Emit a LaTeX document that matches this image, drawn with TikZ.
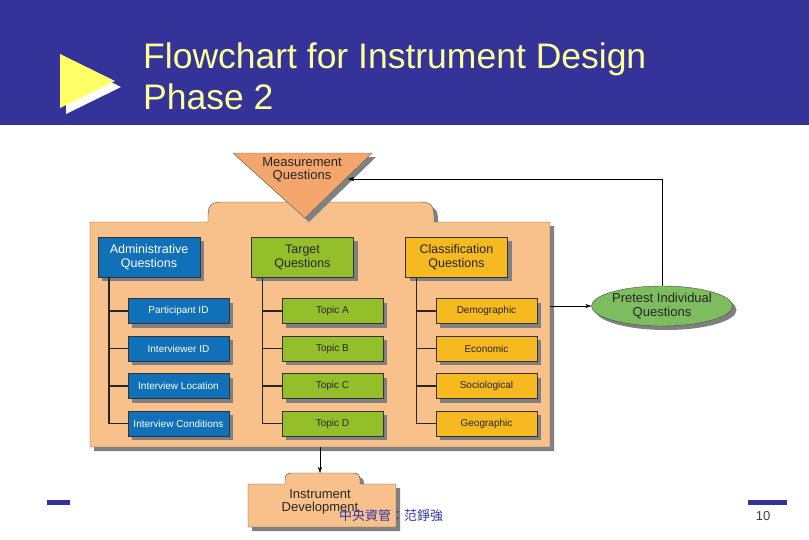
\documentclass[tikz,border=0pt]{standalone}
\usepackage{fontspec}
\setmainfont{Liberation Sans}
\newfontfamily\cjkfont{Noto Sans CJK TC}
\usepackage{xcolor}
\usetikzlibrary{shapes.geometric, arrows.meta, positioning, shadows}

\definecolor{banner}{HTML}{333399}
\definecolor{titleyellow}{HTML}{FFFF99}
\definecolor{markyellow}{HTML}{FFFF66}
\definecolor{peach}{HTML}{F8C18B}
\definecolor{measorange}{HTML}{F4A66C}
\definecolor{adminblue}{HTML}{1070B8}
\definecolor{targetgreen}{HTML}{94BE2A}
\definecolor{classyellow}{HTML}{F6BA20}
\definecolor{pretestgreen}{HTML}{7DBD5F}
\definecolor{footerblue}{HTML}{3333AA}

\begin{document}
\begin{tikzpicture}[x=1pt, y=-1pt,
    boxshadow/.style={drop shadow={shadow xshift=4pt, shadow yshift=-4pt, fill=black!50, opacity=1}},
    headbox/.style={rectangle, draw=black!80, boxshadow, minimum width=102pt, minimum height=40pt, inner sep=1pt, align=center, text=black!85, font=\fontsize{12.5}{14}\selectfont},
    subbox/.style={rectangle, draw=black!80, boxshadow, minimum width=101pt, minimum height=25pt, inner sep=1pt, text=black!85, font=\fontsize{10}{11}\selectfont},
    label/.style={align=center, text=black!85, font=\fontsize{13}{13.5}\selectfont},
    tree/.style={line width=1.6pt, black!85},
    arrow/.style={-{Stealth[length=6pt, width=4pt]}, thin}
  ]
  \useasboundingbox (0,0) rectangle (809,539);

  % title banner
  \fill[banner] (0,0) rectangle (809,125);
  \fill[white] (66,60) -- (66,114) -- (121,87) -- cycle;
  \fill[markyellow] (60,54) -- (60,108) -- (115,81) -- cycle;
  \node[anchor=west, inner sep=0, align=left, text=titleyellow, font=\fontsize{35.5}{41}\selectfont] (title) at (143,76) {Flowchart for Instrument Design\\Phase 2};

  % panel with tab
  \node[minimum width=460pt, minimum height=225pt, inner sep=0] (panel) at (320,334.5) {};
  \fill[peach, draw=black!70, boxshadow] (90,447) -- (90,222) -- (208,222) -- (208,216)
    .. controls (208,206) and (211,202) .. (222,202) -- (420,202)
    .. controls (431,202) and (434,206) .. (434,216) -- (434,222) -- (550,222) -- (550,447) -- cycle;

  % measurement questions
  \fill[measorange, draw=black!60, boxshadow] (233,153) -- (372,153) -- (305,218) -- cycle;
  \node[label] (meas) at (302,170) {Measurement\\Questions};
  \coordinate (measin) at (348,179);

  % three question groups
  \node[headbox, fill=adminblue, text=white] (admin) at (149,257) {Administrative\\Questions};
  \node[headbox, fill=targetgreen] (target) at (302.5,257) {Target\\Questions};
  \node[headbox, fill=classyellow] (class) at (456.5,257) {Classification\\Questions};

  \foreach \txt [count=\i] in {Participant ID, Interviewer ID, Interview Location, Interview Conditions}
    \node[subbox, fill=adminblue, text=white] (adm\i) at (178.5,273.5+37.5*\i) {\txt};
  \foreach \txt [count=\i] in {Topic A, Topic B, Topic C, Topic D}
    \node[subbox, fill=targetgreen] (tgt\i) at (332.5,273.5+37.5*\i) {\txt};
  \foreach \txt [count=\i] in {Demographic, Economic, Sociological, Geographic}
    \node[subbox, fill=classyellow] (cls\i) at (486.5,273.5+37.5*\i) {\txt};

  % tree lines
  \coordinate (admspine) at ([xshift=11pt]admin.south west);
  \coordinate (tgtspine) at ([xshift=11pt]target.south west);
  \coordinate (clsspine) at ([xshift=11pt]class.south west);
  \foreach \grp in {adm, tgt, cls} {
    \draw[tree] (\grp spine) |- (\grp4.west);
    \foreach \i in {1,2,3}
      \draw[tree] (\grp spine |- \grp\i.west) -- (\grp\i.west);
  }

  % pretest
  \node[ellipse, draw=black!70, fill=pretestgreen, boxshadow, minimum width=137pt, minimum height=40pt, inner sep=0, label] (pretest) at (662,306) {Pretest Individual\\Questions};
  \draw[arrow] (panel.east |- pretest) -- (pretest.west);
  \draw[arrow] (pretest.north) |- (measin);

  % instrument development
  \fill[peach, draw=black!70, boxshadow] (248,527) -- (248,484) -- (285,484) -- (285,480)
    .. controls (285,475) and (287,473) .. (292,473) -- (353,473)
    .. controls (358,473) and (360,475) .. (360,480) -- (360,484) -- (396,484) -- (396,527) -- cycle;
  \node[label] (instr) at (320,502) {Instrument\\Development};
  \coordinate (devtop) at (320,473);
  \draw[arrow] (panel.south) -- (devtop);

  % footer
  \fill[banner] (47,500) rectangle (70,505);
  \fill[banner] (748,500) rectangle (787,505);
  \node[anchor=west, inner sep=0, text=footerblue, font=\cjkfont\fontsize{13}{13}\selectfont] (footer) at (339,516) {中央資管：范錚強};
  \node[text=black!75, font=\fontsize{13}{13}\selectfont] (pageno) at (763,516) {10};
\end{tikzpicture}
\end{document}
